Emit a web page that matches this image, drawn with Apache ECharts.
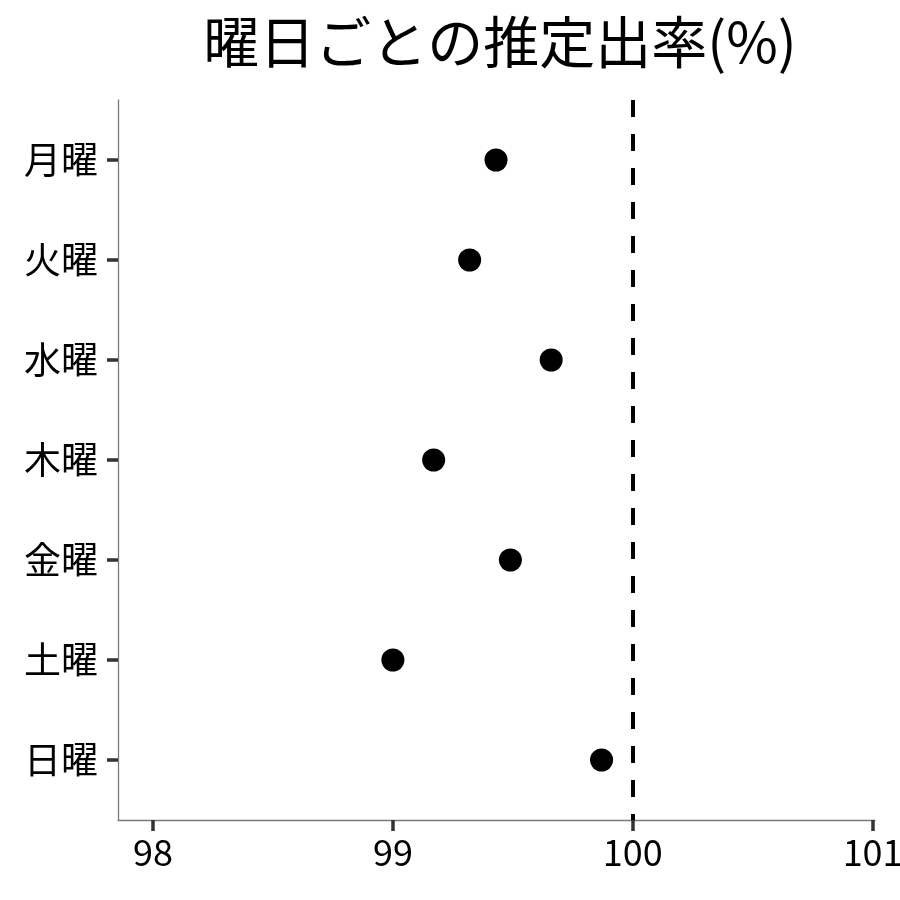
<!DOCTYPE html>
<html>
<head>
<meta charset="utf-8">
<script src="https://cdn.jsdelivr.net/npm/echarts@6/dist/echarts.min.js"></script>
<style>html,body{margin:0;padding:0;background:#fff}#c{width:900px;height:900px}</style>
</head>
<body>
<div id="c"></div>
<script>
const titleText = "曜日ごとの推定出率(%)";
const days = ["月曜", "火曜", "水曜", "木曜", "金曜", "土曜", "日曜"];
const rates = [99.43, 99.32, 99.66, 99.17, 99.49, 99.00, 99.87];
const xTicks = [98, 99, 100, 101];
const refValue = 100;

const font = "'Noto Sans CJK JP', 'Noto Sans', sans-serif";
const chart = echarts.init(document.getElementById('c'));
chart.setOption({
  animation: false,
  backgroundColor: '#fff',
  title: {
    text: titleText,
    left: 495,
    textAlign: 'center',
    top: 9,
    textStyle: { fontFamily: font, fontSize: 56, fontWeight: 'normal', color: '#000' }
  },
  grid: { left: 118, right: 25, top: 100, bottom: 80, containLabel: false, outerBoundsMode: 'none' },
  xAxis: {
    type: 'value',
    min: 97.854,
    max: 101.01,
    splitLine: { show: false },
    axisLine: { show: true, onZero: false, lineStyle: { color: '#7a7a7a', width: 1.3 } },
    axisTick: { show: true, customValues: xTicks, length: 11, lineStyle: { color: '#333', width: 3.5 } },
    axisLabel: { customValues: xTicks, margin: 14, fontFamily: font, fontSize: 36, color: '#000' }
  },
  yAxis: {
    type: 'value',
    min: -0.6,
    max: days.length - 0.4,
    inverse: true,
    splitLine: { show: false },
    axisLine: { show: true, onZero: false, lineStyle: { color: '#7a7a7a', width: 1.3 } },
    axisTick: { show: true, customValues: days.map((d, i) => i), length: 11, lineStyle: { color: '#333', width: 3.5 } },
    axisLabel: {
      customValues: days.map((d, i) => i),
      margin: 20,
      fontFamily: font, fontSize: 37, color: '#000',
      formatter: v => days[Math.round(v)]
    }
  },
  series: [{
    type: 'scatter',
    symbol: 'circle',
    symbolSize: 23,
    itemStyle: { color: '#000', opacity: 1 },
    data: rates.map((r, i) => [r, i]),
    markLine: {
      silent: true,
      symbol: 'none',
      label: { show: false },
      lineStyle: { color: '#000', width: 4, type: [17, 17], opacity: 1 },
      data: [{ xAxis: refValue }]
    }
  }]
});
</script>
</body>
</html>
